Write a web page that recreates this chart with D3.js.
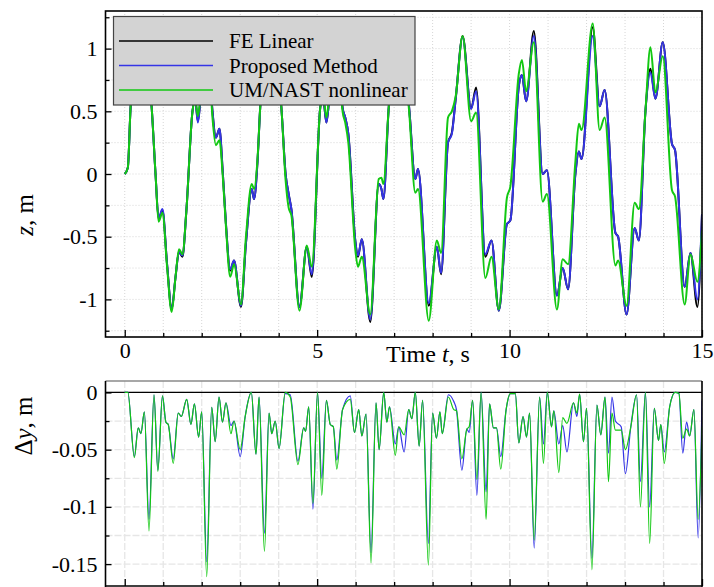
<!DOCTYPE html>
<html><head><meta charset="utf-8">
<script src="https://cdn.jsdelivr.net/npm/d3@7"></script>
<style>
html,body{margin:0;padding:0;background:#fff;}
svg{display:block;}
text{font-family:"Liberation Serif","Times New Roman",serif;fill:#000;}
</style></head>
<body>
<svg id="c" width="714" height="587"></svg>
<script>
// ---- Top panel data: z(t) ----
const tTop = [0.00,0.08,0.15,0.28,0.42,0.56,0.70,0.80,0.88,0.98,1.10,1.22,1.32,1.41,1.50,1.60,1.76,1.83,1.90,1.97,2.10,2.20,2.28,2.37,2.46,2.55,2.63,2.74,2.84,3.02,3.15,3.30,3.36,3.45,3.52,3.65,3.80,3.95,4.07,4.18,4.26,4.33,4.54,4.73,4.86,5.08,5.15,5.24,5.32,5.45,5.58,5.66,5.73,5.81,5.99,6.06,6.16,6.38,6.60,6.67,6.72,6.86,7.00,7.15,7.30,7.39,7.55,7.62,7.90,8.11,8.22,8.40,8.50,8.60,8.78,9.00,9.13,9.37,9.53,9.72,9.93,10.02,10.24,10.32,10.43,10.63,10.86,10.97,11.23,11.38,11.52,11.71,11.80,11.87,12.16,12.34,12.47,12.75,12.82,13.04,13.25,13.36,13.53,13.66,13.79,13.98,14.22,14.30,14.55,14.70,14.88,15.00];
const zFE   = [0,0.05,0.52,0.95,1.05,0.95,0.53,0.00,-0.36,-0.29,-0.72,-1.08,-0.82,-0.62,-0.66,-0.30,0.50,0.60,0.42,0.60,1.00,0.85,0.50,0.29,0.36,0.00,-0.40,-0.77,-0.69,-1.06,-0.55,-0.12,-0.20,0.10,0.53,0.95,1.05,0.90,0.53,0.00,-0.16,-0.28,-1.06,-0.58,-0.82,0.53,0.62,0.41,0.62,1.00,0.82,0.53,0.45,0.32,-0.53,-0.66,-0.52,-1.18,-0.08,-0.12,-0.20,0.53,0.95,1.05,0.80,0.53,-0.04,0.04,-1.05,-0.58,-0.80,0.25,0.33,0.60,1.10,0.52,0.69,-0.66,-0.53,-1.09,-0.40,-0.37,0.70,0.79,0.58,1.14,0.00,0.03,-0.97,-0.75,-0.92,0.00,0.18,0.12,1.17,0.54,0.67,-0.47,-0.50,-1.12,-0.43,-0.53,0.50,0.84,0.60,1.05,0.24,0.19,-0.90,-0.63,-1.06,-0.32];
const zProp = [0,0.05,0.52,0.95,1.05,0.95,0.53,0.00,-0.35,-0.28,-0.72,-1.08,-0.82,-0.62,-0.65,-0.30,0.50,0.60,0.41,0.60,1.00,0.85,0.50,0.29,0.36,0.00,-0.40,-0.76,-0.69,-1.05,-0.55,-0.12,-0.20,0.10,0.53,0.95,1.05,0.90,0.53,0.00,-0.16,-0.28,-1.06,-0.58,-0.80,0.53,0.62,0.41,0.62,1.00,0.82,0.53,0.45,0.32,-0.53,-0.65,-0.52,-1.16,-0.08,-0.12,-0.20,0.53,0.95,1.05,0.80,0.53,-0.04,0.04,-1.03,-0.58,-0.79,0.25,0.32,0.60,1.09,0.52,0.66,-0.64,-0.53,-1.09,-0.40,-0.37,0.70,0.79,0.58,1.10,0.00,0.03,-0.97,-0.75,-0.92,0.00,0.18,0.12,1.10,0.54,0.67,-0.47,-0.50,-1.12,-0.43,-0.53,0.50,0.81,0.60,1.05,0.24,0.19,-0.90,-0.63,-1.00,-0.32];
const zUM   = [0,0.05,0.52,0.95,1.05,0.95,0.53,0.00,-0.38,-0.31,-0.74,-1.10,-0.82,-0.60,-0.64,-0.30,0.50,0.60,0.46,0.62,1.00,0.85,0.45,0.23,0.27,-0.03,-0.42,-0.82,-0.72,-1.04,-0.50,-0.08,-0.12,0.12,0.53,0.95,1.05,0.90,0.53,-0.05,-0.27,-0.33,-1.09,-0.57,-0.74,0.53,0.64,0.45,0.64,1.00,0.80,0.50,0.41,0.25,-0.60,-0.74,-0.66,-1.12,-0.04,-0.03,-0.08,0.53,0.95,1.05,0.80,0.50,-0.15,-0.12,-1.17,-0.53,-0.63,0.45,0.50,0.62,1.10,0.42,0.49,-0.83,-0.66,-1.08,-0.19,-0.10,0.80,0.91,0.66,1.05,-0.22,-0.16,-1.08,-0.68,-0.72,0.10,0.40,0.35,1.20,0.35,0.45,-0.73,-0.69,-1.05,-0.23,-0.28,0.50,1.01,0.65,0.94,-0.13,-0.18,-1.04,-0.64,-0.86,-0.45];

// ---- Bottom panel data: Δy(t) ----
const tBot = [0.00,0.08,0.25,0.35,0.42,0.51,0.63,0.76,0.86,0.98,1.07,1.13,1.26,1.39,1.47,1.61,1.72,1.81,1.92,2.00,2.13,2.26,2.35,2.45,2.54,2.63,2.76,2.84,3.00,3.13,3.29,3.41,3.49,3.63,3.75,3.82,3.91,4.01,4.17,4.30,4.50,4.65,4.70,4.78,4.89,5.01,5.12,5.24,5.34,5.42,5.51,5.66,5.86,5.97,6.08,6.16,6.27,6.40,6.53,6.61,6.73,6.81,6.88,7.03,7.12,7.26,7.38,7.46,7.55,7.65,7.74,7.89,8.00,8.10,8.19,8.25,8.41,8.55,8.62,8.76,8.89,8.95,9.04,9.15,9.26,9.39,9.48,9.58,9.66,9.77,9.91,10.02,10.15,10.24,10.35,10.44,10.52,10.64,10.78,10.88,10.98,11.09,11.15,11.28,11.38,11.49,11.66,11.75,11.82,11.92,12.00,12.14,12.27,12.37,12.48,12.57,12.66,12.75,12.90,13.01,13.15,13.30,13.40,13.53,13.64,13.76,13.87,13.93,14.02,14.16,14.30,14.40,14.50,14.60,14.68,14.79,14.90,15.00];
const dyProp = [0,0,-0.056,-0.031,-0.036,-0.017,-0.111,-0.002,-0.068,-0.003,-0.026,-0.028,-0.058,-0.018,-0.021,-0.006,-0.028,-0.010,-0.039,-0.017,-0.148,-0.013,-0.043,-0.004,-0.026,-0.009,-0.029,-0.025,-0.056,-0.021,0,-0.054,-0.004,-0.123,-0.018,-0.036,-0.025,-0.049,-0.001,-0.002,-0.060,-0.031,-0.034,-0.0125,-0.102,0,-0.075,-0.007,-0.028,-0.030,-0.059,-0.015,-0.003,-0.035,-0.015,-0.038,-0.019,-0.140,-0.009,-0.050,0,-0.026,-0.0125,-0.045,-0.030,-0.052,-0.015,-0.023,0,-0.047,-0.007,-0.132,-0.018,-0.040,-0.017,-0.036,-0.002,-0.008,-0.015,-0.068,-0.032,-0.035,-0.007,-0.090,0,-0.087,-0.010,-0.031,-0.031,-0.056,-0.015,-0.001,-0.001,-0.044,-0.021,-0.039,-0.018,-0.136,-0.004,-0.045,0,-0.030,-0.016,-0.045,-0.029,-0.052,-0.009,-0.021,-0.0015,-0.043,-0.014,-0.145,-0.011,-0.037,-0.004,-0.053,-0.004,-0.025,-0.030,-0.071,-0.030,-0.002,-0.078,0,-0.100,-0.014,-0.042,-0.028,-0.052,-0.0125,0,-0.001,-0.053,-0.026,-0.038,-0.015,-0.127,-0.007];
const dyUM   = [0,0,-0.057,-0.031,-0.036,-0.017,-0.121,-0.002,-0.069,-0.003,-0.026,-0.028,-0.062,-0.018,-0.021,-0.006,-0.028,-0.010,-0.039,-0.017,-0.161,-0.013,-0.043,-0.004,-0.026,-0.009,-0.036,-0.025,-0.050,-0.021,0,-0.054,-0.004,-0.139,-0.018,-0.036,-0.025,-0.049,0,-0.004,-0.063,-0.031,-0.034,-0.0125,-0.097,0,-0.090,-0.007,-0.028,-0.030,-0.067,-0.015,-0.006,-0.035,-0.015,-0.038,-0.019,-0.149,-0.009,-0.050,0,-0.026,-0.0125,-0.055,-0.030,-0.037,-0.015,-0.023,0,-0.047,-0.007,-0.151,-0.018,-0.040,-0.017,-0.036,-0.004,-0.015,-0.016,-0.058,-0.032,-0.030,-0.007,-0.076,0,-0.111,-0.010,-0.031,-0.031,-0.067,-0.015,-0.001,-0.001,-0.044,-0.021,-0.039,-0.018,-0.129,-0.004,-0.062,0,-0.030,-0.016,-0.070,-0.022,-0.027,-0.009,-0.018,-0.0015,-0.043,-0.014,-0.155,-0.011,-0.037,-0.004,-0.078,-0.018,-0.033,-0.033,-0.050,-0.030,-0.002,-0.100,0,-0.132,-0.014,-0.042,-0.028,-0.062,-0.0125,0,-0.001,-0.040,-0.032,-0.038,-0.015,-0.111,-0.030];

// ---- Ticks / labels ----
const xMajor = [0,5,10,15];
const xMinor = [1,2,3,4,6,7,8,9,11,12,13,14];
const zMajor = [-1,-0.5,0,0.5,1];
const zMinor = [-1.25,-0.75,-0.25,0.25,0.75,1.25];
const dyMajor = [-0.15,-0.1,-0.05,0];
const dyMinor = [-0.125,-0.075,-0.025];
const legendNames = ["FE Linear","Proposed Method","UM/NAST nonlinear"];
const colors = ["#000000","#3434e6","#12c812"];

const svg = d3.select("#c");
const L = 105.5, R = 702;
const x = d3.scaleLinear().domain([-0.5,15]).range([L,R]);
const yTop = d3.scaleLinear().domain([-1.3,1.3]).range([337,11]);
const yBot = d3.scaleLinear().domain([-0.17,0.01]).range([587,381]);

const defs = svg.append("defs");
defs.append("clipPath").attr("id","clipTop").append("rect").attr("x",L).attr("y",11).attr("width",R-L).attr("height",326);
defs.append("clipPath").attr("id","clipBot").append("rect").attr("x",L).attr("y",381).attr("width",R-L).attr("height",206);

function grid(y, yVals, top, bottom, style){
  const g = svg.append("g");
  d3.range(0,16).forEach(t=>{
    g.append("line").attr("x1",x(t)).attr("x2",x(t)).attr("y1",top).attr("y2",bottom).attr("stroke",style.c).attr("stroke-width",style.w).attr("stroke-dasharray",style.d);
  });
  yVals.forEach(v=>{
    g.append("line").attr("x1",L).attr("x2",R).attr("y1",y(v)).attr("y2",y(v)).attr("stroke",style.c).attr("stroke-width",style.w).attr("stroke-dasharray",style.d);
  });
}
grid(yTop, d3.range(-1.25,1.26,0.25), 11, 337, {c:"#d6d6d6", w:1, d:"1,2"});
grid(yBot, d3.range(-0.15,0.001,0.025), 381, 587, {c:"#e6e6e6", w:1.3, d:"7,2"});

function drawLine(ts, vs, y, clip, color, width){
  const data = ts.map((t,i)=>[t,vs[i]]);
  svg.append("path").datum(data).attr("clip-path",`url(#${clip})`)
    .attr("fill","none").attr("stroke",color).attr("stroke-width",width).attr("stroke-linejoin","round")
    .attr("d", d3.line().x(d=>x(d[0])).y(d=>y(d[1])).curve(d3.curveMonotoneX));
}
// top
drawLine(tTop, zFE, yTop, "clipTop", colors[0], 2);
drawLine(tTop, zProp, yTop, "clipTop", colors[1], 2);
drawLine(tTop, zUM, yTop, "clipTop", colors[2], 2);
// bottom
svg.append("line").attr("x1",L).attr("x2",R).attr("y1",yBot(0)).attr("y2",yBot(0)).attr("stroke","#000").attr("stroke-width",1.3);
drawLine(tBot, dyProp, yBot, "clipBot", colors[1], 1.2);
drawLine(tBot, dyUM, yBot, "clipBot", colors[2], 1.2);

function styleAxis(g){ g.select(".domain").remove(); g.selectAll("line").attr("stroke","#000").attr("stroke-width",1.3); g.selectAll("text").attr("font-family","Liberation Serif, serif").attr("font-size",22).attr("fill","#000"); }

// Top axes
svg.append("g").attr("transform",`translate(${L},0)`).call(d3.axisLeft(yTop).tickValues(zMajor).tickSize(-6).tickPadding(8).tickFormat(d=>String(d))).call(styleAxis);
svg.append("g").attr("transform",`translate(${L},0)`).call(d3.axisLeft(yTop).tickValues(zMinor).tickSize(-4).tickFormat("")).call(styleAxis);
svg.append("g").attr("transform",`translate(0,337)`).call(d3.axisBottom(x).tickValues(xMajor).tickSize(-7).tickPadding(5).tickFormat(d=>String(d))).call(styleAxis);
svg.append("g").attr("transform",`translate(0,337)`).call(d3.axisBottom(x).tickValues(xMinor).tickSize(-4).tickFormat("")).call(styleAxis);
// Bottom axes
svg.append("g").attr("transform",`translate(${L},0)`).call(d3.axisLeft(yBot).tickValues(dyMajor).tickSize(-6).tickPadding(8).tickFormat(d=>String(d))).call(styleAxis);
svg.append("g").attr("transform",`translate(${L},0)`).call(d3.axisLeft(yBot).tickValues(dyMinor).tickSize(-4).tickFormat("")).call(styleAxis);
svg.append("g").attr("transform",`translate(0,586)`).call(d3.axisBottom(x).tickValues(xMajor).tickSize(-7).tickFormat("")).call(styleAxis);
svg.append("g").attr("transform",`translate(0,586)`).call(d3.axisBottom(x).tickValues(xMinor).tickSize(-4).tickFormat("")).call(styleAxis);

// Frames
svg.append("rect").attr("x",L).attr("y",11).attr("width",R-L).attr("height",326).attr("fill","none").attr("stroke","#000").attr("stroke-width",1.6);
svg.append("line").attr("x1",L).attr("x2",R).attr("y1",381).attr("y2",381).attr("stroke","#8a8a8a").attr("stroke-width",1.6);
svg.append("line").attr("x1",L).attr("x2",L).attr("y1",381).attr("y2",587).attr("stroke","#000").attr("stroke-width",1.6);
svg.append("line").attr("x1",R).attr("x2",R).attr("y1",381).attr("y2",587).attr("stroke","#000").attr("stroke-width",1.6);
svg.append("line").attr("x1",L).attr("x2",R).attr("y1",586).attr("y2",586).attr("stroke","#000").attr("stroke-width",1.6);

// Axis titles
const zt = svg.append("text").attr("transform","translate(33,215) rotate(-90)").attr("text-anchor","middle").attr("font-size",25);
zt.append("tspan").attr("font-style","italic").text("z");
zt.append("tspan").text(", m");
const xt = svg.append("text").attr("x",428).attr("y",362).attr("text-anchor","middle").attr("font-size",24);
xt.append("tspan").text("Time ");
xt.append("tspan").attr("font-style","italic").text("t");
xt.append("tspan").text(", s");
const dt = svg.append("text").attr("transform","translate(32,426) rotate(-90)").attr("text-anchor","middle").attr("font-size",25);
dt.append("tspan").text("\u0394");
dt.append("tspan").attr("font-style","italic").text("y");
dt.append("tspan").text(", m");

// Legend
const lg = svg.append("g");
lg.append("rect").attr("x",113.5).attr("y",16.5).attr("width",301.5).attr("height",88.5).attr("fill","#d3d3d3").attr("stroke","#444").attr("stroke-width",1.2);
legendNames.forEach((n,i)=>{
  const yy = 41 + i*24.5;
  lg.append("line").attr("x1",119).attr("x2",213).attr("y1",yy).attr("y2",yy).attr("stroke",colors[i]).attr("stroke-width",1.5);
  lg.append("text").attr("x",229).attr("y",yy+7).attr("font-size",21).text(n);
});
</script>
</body></html>
